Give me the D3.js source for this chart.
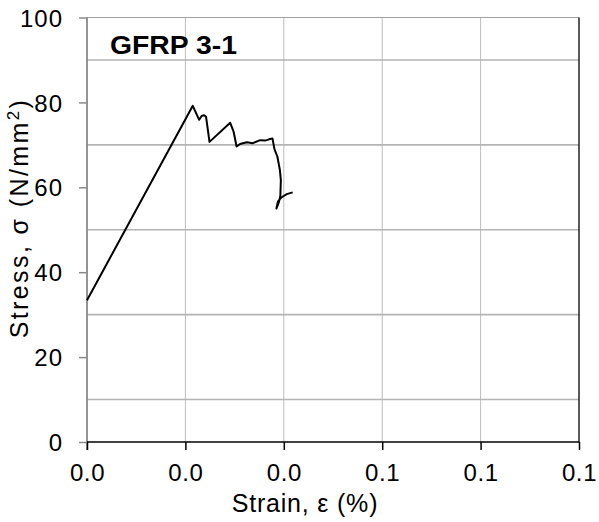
<!DOCTYPE html>
<html>
<head>
<meta charset="utf-8">
<script src="https://cdn.jsdelivr.net/npm/d3@7"></script>
<style>
  body { margin: 0; background: #fff; }
  text { font-family: Arial, "Liberation Sans", sans-serif; fill: #000; }
</style>
</head>
<body>
<div id="chart"></div>
<script>
// strain (%) and stress (N/mm2)
var strain = [0, 0.0215, 0.0228, 0.0233, 0.0238, 0.0242, 0.0249, 0.0291, 0.0295, 0.0298,
  0.0304, 0.0311, 0.0325, 0.0337, 0.0352, 0.0362, 0.0370, 0.0377, 0.0381, 0.0387,
  0.0392, 0.0394, 0.0393, 0.0390, 0.0385, 0.0388, 0.0395, 0.0406, 0.0418];
var stress = [33.4, 79.2, 75.9, 76.8, 77.0, 76.6, 70.7, 75.2, 74.0, 73.1,
  69.6, 70.2, 70.6, 70.4, 71.1, 71.0, 71.3, 71.5, 69.0, 67.2,
  64.1, 61.7, 58.0, 56.5, 55.0, 56.6, 57.6, 58.4, 58.8];

var xTicks = [0, 0.02, 0.04, 0.06, 0.08, 0.1];
var yTicks = [0, 20, 40, 60, 80, 100];
var yGrid = [10, 30, 50, 70, 90];

var W = 599, H = 522;
var margin = {top: 17.5, right: 20, bottom: 80, left: 87};
var w = 492, h = 424.5;

var svg = d3.select("#chart").append("svg")
  .attr("width", W)
  .attr("height", H)

var g = svg.append("g")
  .attr("transform", "translate(" + margin.left + "," + margin.top + ")")

var x = d3.scaleLinear().domain([0, 0.1]).range([0, w]);
var y = d3.scaleLinear().domain([0, 100]).range([h, 0]);

// grid
g.selectAll(".vgrid").data(xTicks.slice(1, -1)).enter().append("line")
  .attr("x1", d => x(d)).attr("x2", d => x(d))
  .attr("y1", 0).attr("y2", h)
  .attr("stroke", "#bdbdbd").attr("stroke-width", 1)

g.selectAll(".hgrid").data(yGrid).enter().append("line")
  .attr("x1", 0).attr("x2", w)
  .attr("y1", d => y(d)).attr("y2", d => y(d))
  .attr("stroke", "#b4b4b4").attr("stroke-width", 1.6)

// top and right border
g.append("line").attr("x1", 0).attr("x2", w).attr("y1", 0).attr("y2", 0)
  .attr("stroke", "#a0a0a0").attr("stroke-width", 1.2)
g.append("line").attr("x1", w).attr("x2", w).attr("y1", 0).attr("y2", h)
  .attr("stroke", "#222").attr("stroke-width", 1.5)

// y axis
var yAxis = g.append("g")
  .call(d3.axisLeft(y).tickValues(yTicks).tickSize(8).tickPadding(16).tickFormat(d3.format("d")))
yAxis.select(".domain").attr("stroke", "#8a8a8a").attr("stroke-width", 1.8)
  .attr("d", "M0," + (h + 8) + "V0")
yAxis.selectAll(".tick line").attr("stroke", "#8a8a8a").attr("stroke-width", 1.5)
yAxis.selectAll(".tick text").attr("font-size", 24).attr("font-family", null)
  .attr("dy", "0.36em").attr("letter-spacing", 1)

// x axis
var xAxis = g.append("g")
  .attr("transform", "translate(0," + h + ")")
  .call(d3.axisBottom(x).tickValues(xTicks).tickSize(8).tickPadding(14).tickFormat(d3.format(".1f")))
xAxis.select(".domain").attr("stroke", "#000").attr("stroke-width", 1.5).attr("d", "M0,0H" + w)
xAxis.selectAll(".tick line").attr("stroke", "#000").attr("stroke-width", 1.5)
xAxis.selectAll(".tick text").attr("font-size", 24).attr("font-family", null)
  .attr("dy", "0.71em").attr("letter-spacing", 0.6)

// curve
var pts = strain.map((s, i) => [s, stress[i]]);
g.append("path")
  .datum(pts)
  .attr("fill", "none")
  .attr("stroke", "#000")
  .attr("stroke-width", 2)
  .attr("stroke-linejoin", "round")
  .attr("d", d3.line().x(d => x(d[0])).y(d => y(d[1])))

// labels
svg.append("text")
  .attr("x", 110).attr("y", 54)
  .attr("font-size", 25).attr("font-weight", "bold")
  .attr("textLength", 127).attr("lengthAdjust", "spacingAndGlyphs")
  .text("GFRP 3-1")

svg.append("text")
  .attr("x", 305).attr("y", 512)
  .attr("text-anchor", "middle")
  .attr("font-size", 25)
  .attr("letter-spacing", 0.8)
  .text("Strain, \u03b5 (%)")

var yt = svg.append("text")
  .attr("transform", "translate(28,218) rotate(-90)")
  .attr("text-anchor", "middle")
  .attr("font-size", 25)
  .attr("letter-spacing", 2.4)
yt.append("tspan").text("Stress, \u03c3 (N/mm")
yt.append("tspan").attr("font-size", 17).attr("dy", "-9").text("2")
yt.append("tspan").attr("dy", "9").text(")")
</script>
</body>
</html>
